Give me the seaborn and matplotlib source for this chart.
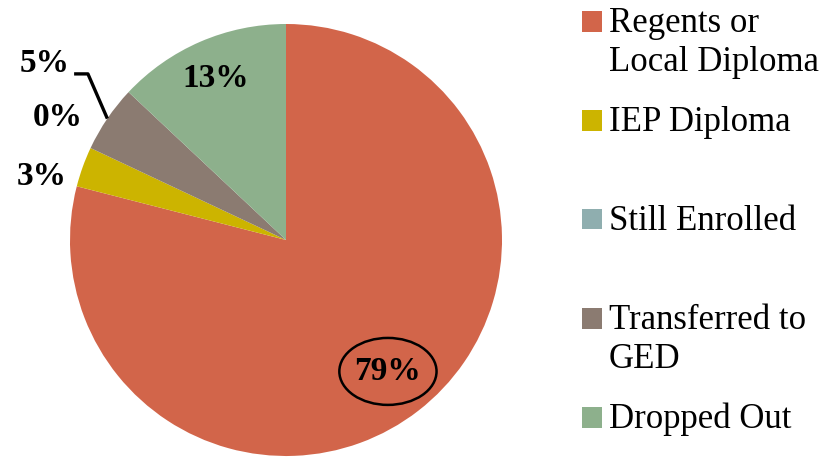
import numpy as np
import matplotlib.pyplot as plt
import seaborn as sns
from matplotlib.patches import Ellipse, Rectangle

# data
categories = ["Regents or\nLocal Diploma", "IEP Diploma", "Still Enrolled",
              "Transferred to\nGED", "Dropped Out"]
shares = [79, 3, 0, 5, 13]
pct_labels = ["79%", "3%", "0%", "5%", "13%"]
colors = ["#D2654A", "#CCB400", "#8FAEAF", "#8B7B71", "#8DB08C"]

sns.set_style("white")
plt.rcParams["font.family"] = ["Liberation Serif", "DejaVu Serif"]
plt.rcParams["text.color"] = "black"

fig = plt.figure(figsize=(8.39, 4.57), dpi=100)
ax = fig.add_axes([70 / 839, 1 / 457, 432 / 839, 432 / 457])

wedges, _ = ax.pie(shares, colors=colors, startangle=90, counterclock=False,
                   radius=1.0, wedgeprops=dict(linewidth=0))
ax.set_xlim(-1, 1)
ax.set_ylim(-1, 1)
ax.set_aspect("equal")
ax.axis("off")


def mid(w):
    a = np.deg2rad((w.theta1 + w.theta2) / 2)
    return np.cos(a), np.sin(a)


# inside labels
cx, cy = mid(wedges[4])
ax.text(0.817 * cx, 0.817 * cy, pct_labels[4], ha="center", va="center",
        fontsize=24, fontweight="bold")
cx, cy = mid(wedges[0])
ax.text(0.77 * cx, 0.77 * cy, pct_labels[0], ha="center", va="center",
        fontsize=24, fontweight="bold")
ax.add_patch(Ellipse((0.77 * cx, 0.77 * cy), 0.45, 0.31, fill=False,
                     lw=1.8, ec="black"))

# outside labels
outside = {1: (-1.13, 0.292), 2: (-1.056, 0.565), 3: (-1.116, 0.819)}
for i, (x, y) in outside.items():
    ax.text(x, y, pct_labels[i], ha="center", va="center",
            fontsize=24, fontweight="bold", clip_on=False)

# leader line for the 5% label
ex, ey = mid(wedges[3])
ax.plot([-0.981, -0.917, ex], [0.769, 0.769, ey], color="black", lw=2.4,
        solid_capstyle="butt", clip_on=False)

# legend, evenly spaced entries
for i, (lab, col) in enumerate(zip(categories, colors)):
    yc = 1 - (21 + 99 * i) / 457
    fig.add_artist(Rectangle((582 / 839, yc - 10.5 / 457), 20 / 839, 21 / 457,
                             transform=fig.transFigure, color=col, lw=0))
    for j, line in enumerate(lab.split("\n")):
        fig.text(609 / 839, yc - (11 + 39 * j) / 457, line, ha="left",
                 va="baseline", fontsize=25)

fig.savefig("out.png", dpi=100)
